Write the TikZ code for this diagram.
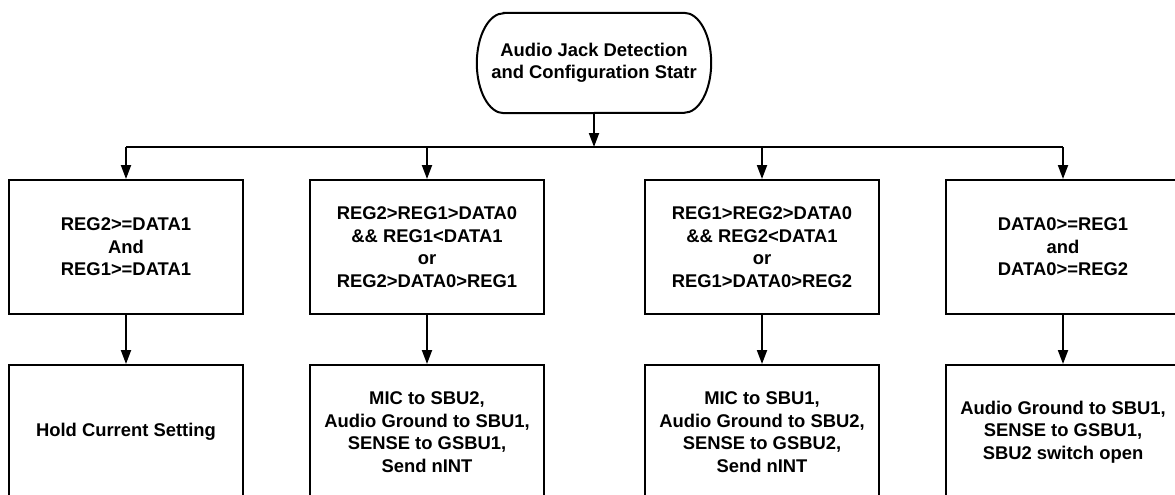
\documentclass[tikz,border=0pt]{standalone}
\usepackage{fontspec}
\setmainfont{Liberation Sans}
\usetikzlibrary{arrows.meta,calc}
\tikzset{%
	% Style of the text in every block
	BlockFont/.style={font=\fontsize{18.4}{22.5}\selectfont\bfseries,align=center},
	% Style of the condition / action block
	Block/.style={BlockFont,draw=black,line width=2pt,inner sep=0,minimum width=234,minimum height=134},
	% Style of the start block (outline drawn by hand)
	StartName/.style={BlockFont,inner sep=0,minimum width=234,minimum height=100},
	% Style of the plain branch
	Connection/.style={line width=2pt},
	% Style of the branch with arrow
	Flow/.style={Connection,-{Triangle[length=14pt,width=10pt]}},
}

\begin{document}
\begin{tikzpicture}[x=1pt,y=-1pt] % STYLES

\useasboundingbox (0,0) rectangle (1175,495);
\clip (0,0) rectangle (1175,495);

%~~~~~~~~~~~~~~~~~~~~~~~~~~~~~~~~~~~~~~~~~~~~~~~~~~
% Set Nodes
%~~~~~~~~~~~~~~~~~~~~~~~~~~~~~~~~~~~~~~~~~~~~~~~~~~
\node[StartName] (Start) at (594, 63) {Audio Jack Detection\\and Configuration Statr};
\draw[Connection] ($ (Start.north west) + (27, 0) $) -- ($ (Start.north east) + (-27, 0) $)
	arc[start angle=90, end angle=-90, x radius=27pt, y radius=50pt]
	-- ($ (Start.south west) + (27, 0) $)
	arc[start angle=270, end angle=90, x radius=27pt, y radius=50pt] -- cycle;

\node[Block] (C1) at (126, 247) {REG2>=DATA1\\And\\REG1>=DATA1};
\node[Block] (C2) at (427, 247) {REG2>REG1>DATA0\\\&\& REG1<DATA1\\or\\REG2>DATA0>REG1};
\node[Block] (C3) at (762, 247) {REG1>REG2>DATA0\\\&\& REG2<DATA1\\or\\REG1>DATA0>REG2};
\node[Block] (C4) at (1063, 247) {DATA0>=REG1\\and\\DATA0>=REG2};

\node[Block] (A1) at (126, 432) {Hold Current Setting};
\node[Block] (A2) at (427, 432) {MIC to SBU2,\\Audio Ground to SBU1,\\SENSE to GSBU1,\\Send nINT};
\node[Block] (A3) at (762, 432) {MIC to SBU1,\\Audio Ground to SBU2,\\SENSE to GSBU2,\\Send nINT};
\node[Block] (A4) at (1063, 432) {Audio Ground to SBU1,\\SENSE to GSBU1,\\SBU2 switch open};

\coordinate (J) at (594, 147);
\coordinate (J1) at (C1 |- J);
\coordinate (J2) at (C2 |- J);
\coordinate (J3) at (C3 |- J);
\coordinate (J4) at (C4 |- J);



%~~~~~~~~~~~~~~~~~~~~~~~~~~~~~~~~~~~~~~~~~~~~~~~~~~
% Set Branches
%~~~~~~~~~~~~~~~~~~~~~~~~~~~~~~~~~~~~~~~~~~~~~~~~~~
%Branch from Start to the bus
\draw [Flow] (Start) -- (J);
\draw [Connection] (J1) -- (J4);

%Branches from the bus to the conditions
\draw [Flow] (J1) -- (C1);
\draw [Flow] (J2) -- (C2);
\draw [Flow] (J3) -- (C3);
\draw [Flow] (J4) -- (C4);

%Branches from the conditions to the actions
\draw [Flow] (C1) -- (A1);
\draw [Flow] (C2) -- (A2);
\draw [Flow] (C3) -- (A3);
\draw [Flow] (C4) -- (A4);



\end{tikzpicture}
\end{document}
